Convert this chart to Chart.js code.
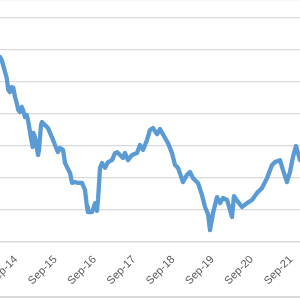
<!DOCTYPE html>
<html>
<head>
<meta charset="utf-8">
<script src="https://cdn.jsdelivr.net/npm/chart.js@4"></script>
<style>
  body { margin: 0; background: #fff; }
  #wrap { position: relative; width: 300px; height: 300px; overflow: hidden; }
  #frame { position: absolute; left: 0; top: 296px; width: 300px; height: 2px; background: #d9d9d9; }
</style>
</head>
<body>
<div id="wrap">
  <canvas id="lineChart" width="300" height="300"></canvas>
  <div id="frame"></div>
</div>
<script>
// ===== DATA (months since Sep-14, series value) =====
const months = [
  -4.89, -4.37, -3.36, -2.84, -2.35, -1.83, -1.31, -0.82, -0.31, 0.21,
  0.70, 1.22, 1.74, 2.14, 2.75, 3.27, 3.66, 4.27, 4.79, 5.10,
  5.28, 5.80, 6.32, 6.72, 7.02, 7.63, 7.94, 8.85, 9.77, 10.38,
  11.30, 11.91, 12.82, 13.44, 14.35, 14.96, 15.57, 16.49, 17.10, 18.02,
  18.93, 20.15, 21.07, 21.68, 21.98, 23.21, 24.12, 24.73, 25.04, 25.65,
  26.26, 27.18, 28.09, 29.31, 30.23, 30.84, 31.76, 32.67, 33.28, 34.20,
  35.42, 36.95, 37.86, 38.78, 40.00, 40.92, 41.83, 43.05, 43.97, 45.50,
  46.41, 47.63, 48.55, 49.47, 50.99, 52.21, 53.13, 54.05, 55.57, 56.79,
  57.71, 58.63, 59.24, 60.15, 61.37, 62.29, 63.21, 64.43, 65.34, 65.95,
  66.56, 67.79, 69.01, 70.53, 72.06, 73.59, 75.11, 76.64, 78.17, 79.08,
  80.61, 81.53, 82.75, 83.66, 84.58, 85.50, 86.11, 86.72
];
const values = [
  5.76, 5.67, 5.30, 5.11, 4.74, 4.67, 4.83, 4.80, 4.52, 4.33,
  4.11, 4.05, 4.21, 4.11, 3.89, 3.96, 3.80, 3.43, 3.12, 2.96,
  3.40, 3.27, 2.96, 2.71, 2.87, 3.64, 3.74, 3.64, 3.55, 3.40,
  3.18, 3.02, 2.80, 2.93, 2.87, 2.46, 2.34, 2.15, 1.84, 1.87,
  1.84, 1.84, 1.62, 1.09, 0.93, 0.93, 1.21, 0.97, 1.31, 2.31,
  2.46, 2.31, 2.49, 2.55, 2.77, 2.80, 2.71, 2.62, 2.77, 2.55,
  2.71, 2.77, 3.02, 2.87, 3.18, 3.49, 3.55, 3.36, 3.52, 3.24,
  3.08, 2.77, 2.40, 2.31, 1.87, 2.09, 2.18, 1.99, 1.84, 1.46,
  1.09, 0.87, 0.37, 0.90, 1.40, 1.21, 1.37, 1.31, 1.00, 0.78,
  1.43, 1.25, 1.09, 1.21, 1.31, 1.53, 1.68, 1.99, 2.40, 2.49,
  2.55, 2.24, 1.87, 2.18, 2.65, 2.99, 2.77, 2.55
];
const tickMonths = [0, 12, 24, 36, 48, 60, 72, 84];
const tickLabels = ["Sep-14", "Sep-15", "Sep-16", "Sep-17", "Sep-18", "Sep-19", "Sep-20", "Sep-21"];
const yGrid = [0, 1, 2, 3, 4, 5, 6, 7, 7.54];

const points = months.map((m, i) => ({ x: m, y: values[i] }));

// ===== LINE CHART =====
const ctx = document.getElementById("lineChart").getContext("2d");
new Chart(ctx, {
  type: "line",
  data: {
    datasets: [{
      data: points,
      borderColor: "#5b9bd5",
      borderWidth: 4.3,
      borderJoinStyle: "round",
      borderCapStyle: "round",
      pointRadius: 0,
      tension: 0,
      fill: false,
    }],
  },
  options: {
    responsive: false,
    animation: false,
    layout: { padding: 0 },
    scales: {
      x: {
        type: "linear",
        min: -4.89,
        max: 86.72,
        afterBuildTicks: (scale) => {
          scale.ticks = tickMonths.map(v => ({ value: v }));
        },
        afterFit: (scale) => {
          scale.height = 58;
          scale.paddingLeft = 0;
          scale.paddingRight = 0;
        },
        ticks: {
          autoSkip: false,
          minRotation: 45,
          maxRotation: 45,
          padding: 3,
          color: "#595959",
          font: { family: "Liberation Sans", size: 11 },
          callback: (v) => tickLabels[tickMonths.indexOf(v)],
        },
        grid: { display: false },
        border: { color: "#d9d9d9", width: 1.3 },
      },
      y: {
        min: 0,
        max: 7.54,
        afterBuildTicks: (scale) => {
          scale.ticks = yGrid.map(v => ({ value: v }));
        },
        afterFit: (scale) => { scale.width = 0; },
        ticks: { display: false },
        grid: { color: "#d9d9d9", lineWidth: 1.3, drawTicks: false },
        border: { display: false },
      },
    },
    plugins: {
      legend: { display: false },
      tooltip: { enabled: false },
    },
  },
});
</script>
</body>
</html>
